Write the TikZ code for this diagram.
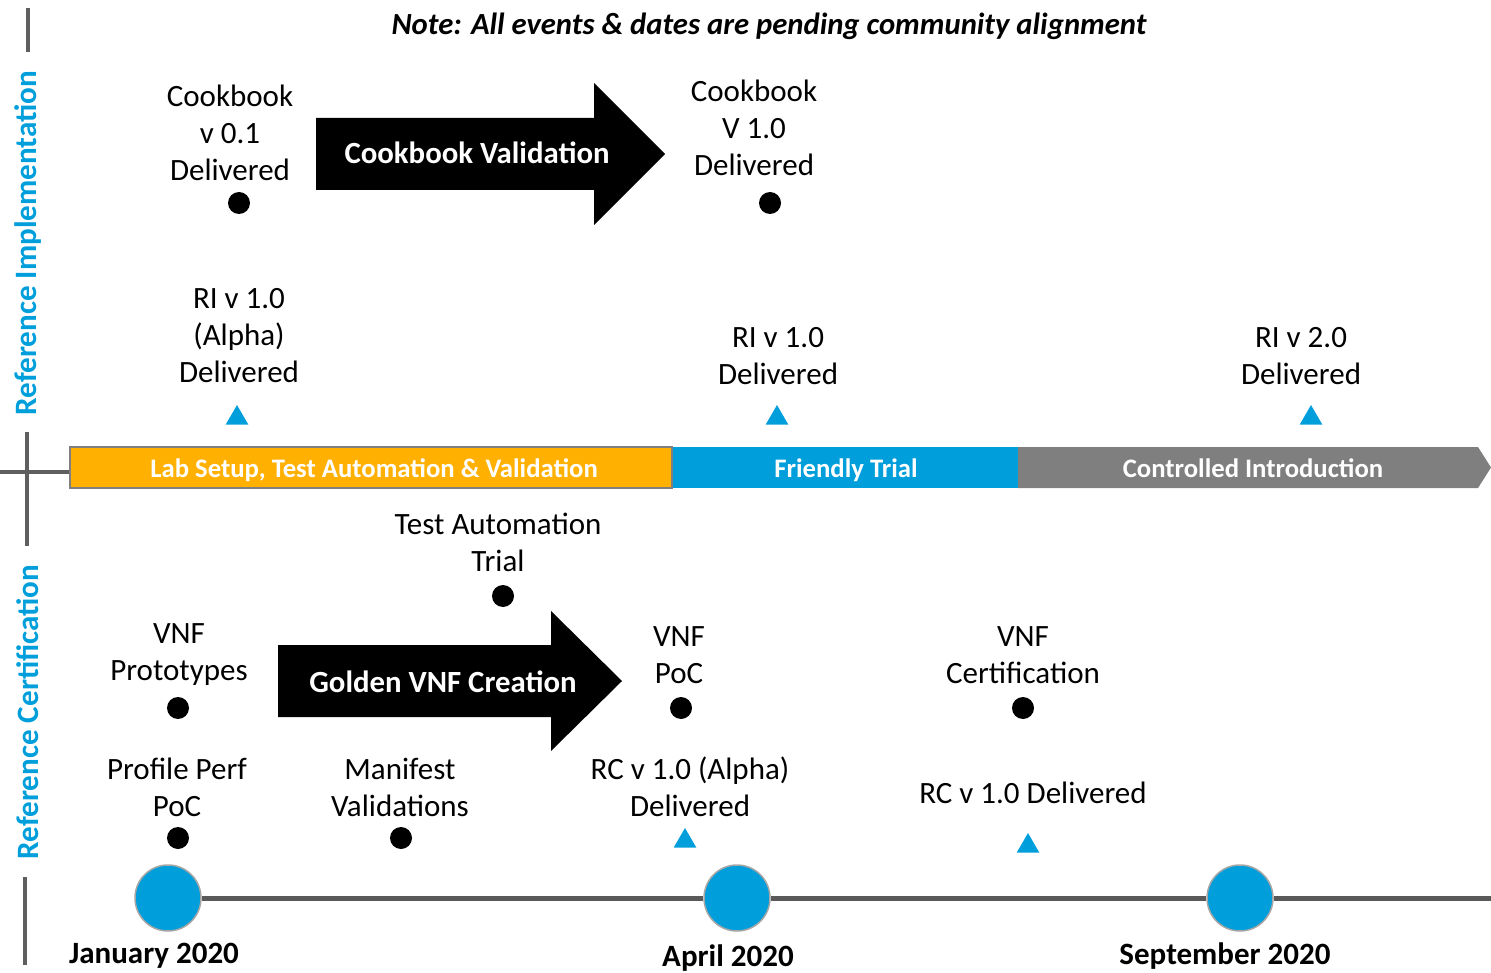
\documentclass[tikz,border=0pt]{standalone}
\usepackage{fontspec}
\setmainfont{Carlito}
\usetikzlibrary{shapes.geometric}
\definecolor{rblue}{HTML}{009FDB}
\definecolor{rorange}{HTML}{FFB000}
\definecolor{rgray}{HTML}{7F7F7F}
\definecolor{axisgray}{HTML}{5F5F5F}
\definecolor{linegray}{HTML}{595959}
\definecolor{rimgray}{HTML}{A6A6A6}
\begin{document}
\begin{tikzpicture}[x=1pt,y=-1pt,
  lbl/.style={align=center,inner sep=0pt,font=\fontsize{31}{37}\selectfont},
  dotm/.style={circle,fill=black,minimum size=22pt,inner sep=0pt},
  trim/.style={regular polygon,regular polygon sides=3,fill=rblue,minimum size=26pt,inner sep=0pt},
  barlbl/.style={text=white,font=\fontsize{26.7}{30}\selectfont\bfseries,inner sep=0pt,anchor=base},
  arrlbl/.style={text=white,font=\fontsize{30.8}{36}\selectfont\bfseries,inner sep=0pt},
  datelbl/.style={font=\fontsize{31}{36}\selectfont\bfseries,inner sep=0pt},
  sidelbl/.style={rotate=90,text=rblue,font=\fontsize{31.1}{36}\selectfont\bfseries,inner sep=0pt},
  axis/.style={draw=axisgray,line width=4pt},
  month/.style={circle,fill=rblue,draw=rimgray,line width=1.5pt,minimum size=66pt,inner sep=0pt},
  bigarrow/.style={fill=black}
]
\useasboundingbox (0,0) rectangle (1491,973);

% note
\node[inner sep=0pt,font=\fontsize{30.7}{36}\selectfont\bfseries\itshape] (note) at (769,26) {Note: All events \& dates are pending community alignment};

% left axis
\coordinate (ax1) at (28,8);
\coordinate (ax2) at (28,52);
\coordinate (ax3) at (27,432);
\coordinate (ax4) at (27,546);
\coordinate (ax5) at (25,877);
\coordinate (ax6) at (25,965);
\coordinate (hx0) at (0,472);
\coordinate (hx1) at (70,472);
\draw[axis] (ax1) -- (ax2);
\draw[axis] (ax3) -- (ax4);
\draw[axis] (ax5) -- (ax6);
\draw[axis] (hx0) -- (hx1);
\node[sidelbl] (ri) at (28,243) {Reference Implementation};
\node[sidelbl] (rc) at (28,712) {Reference Certification};

% phase bar
\fill[rblue] (672,447) rectangle (1018,488);
\fill[rgray] (1018,447) -- (1478,447) -- (1491,467.5) -- (1478,488) -- (1018,488) -- cycle;
\filldraw[fill=rorange,draw=rgray,line width=2pt] (70,447) rectangle (672,488);
\node[barlbl] (ph1) at (374,477) {Lab Setup, Test Automation \& Validation};
\node[barlbl] (ph2) at (846,477) {Friendly Trial};
\node[barlbl] (ph3) at (1253,477) {Controlled Introduction};

% big arrows
\fill[bigarrow] (316,118) -- (594,118) -- (594,83) -- (665,154) -- (594,225) -- (594,190) -- (316,190) -- cycle;
\node[arrlbl] (cv) at (477,153) {Cookbook Validation};
\fill[bigarrow] (278,645) -- (551,645) -- (551,611) -- (622,681) -- (551,751) -- (551,717) -- (278,717) -- cycle;
\node[arrlbl] (gv) at (443,682) {Golden VNF Creation};

% upper labels
\node[lbl] (cb01) at (230,133) {Cookbook\\v 0.1\\Delivered};
\node[dotm] (d1) at (239,203) {};
\node[lbl] (cb10) at (754,128) {Cookbook\\V 1.0\\Delivered};
\node[dotm] (d2) at (770,203) {};
\node[lbl] (ria) at (239,336) {RI v 1.0\\(Alpha)\\Delivered};
\node[trim] (t1) at (237,418) {};
\node[lbl] (ri1) at (778,356) {RI v 1.0\\Delivered};
\node[trim] (t2) at (777,418) {};
\node[lbl] (ri2) at (1301,356) {RI v 2.0\\Delivered};
\node[trim] (t3) at (1311,418) {};

% lower labels
\node[lbl] (tat) at (498,542) {Test Automation\\Trial};
\node[dotm] (d3) at (503,596) {};
\node[lbl] (vp) at (179,655) {VNF\\Prototypes};
\node[dotm] (d4) at (178,708) {};
\node[lbl] (vpoc) at (679,655) {VNF\\PoC};
\node[dotm] (d5) at (681,708) {};
\node[lbl] (vc) at (1023,655) {VNF\\Certification};
\node[dotm] (d6) at (1023,708) {};
\node[lbl] (ppp) at (177,787) {Profile Perf\\PoC};
\node[dotm] (d7) at (178,838) {};
\node[lbl] (mv) at (400,787) {Manifest\\Validations};
\node[dotm] (d8) at (401,838) {};
\node[lbl] (rca) at (690,787) {RC v 1.0 (Alpha)\\Delivered};
\node[trim] (t4) at (685,841) {};
\node[lbl] (rc1) at (1033,793) {RC v 1.0 Delivered};
\node[trim] (t5) at (1028,846) {};

% timeline
\node[month] (m1) at (168,898) {};
\node[month] (m2) at (737,898) {};
\node[month] (m3) at (1240,898) {};
\coordinate (tend) at (1491,898);
\draw[linegray,line width=5pt] (m1) -- (m2);
\draw[linegray,line width=5pt] (m2) -- (m3);
\draw[linegray,line width=5pt] (m3) -- (tend);
\node[datelbl] (jan) at (154,956) {January 2020};
\node[datelbl] (apr) at (728,958) {April 2020};
\node[datelbl] (sep) at (1225,956) {September 2020};
\end{tikzpicture}
\end{document}
